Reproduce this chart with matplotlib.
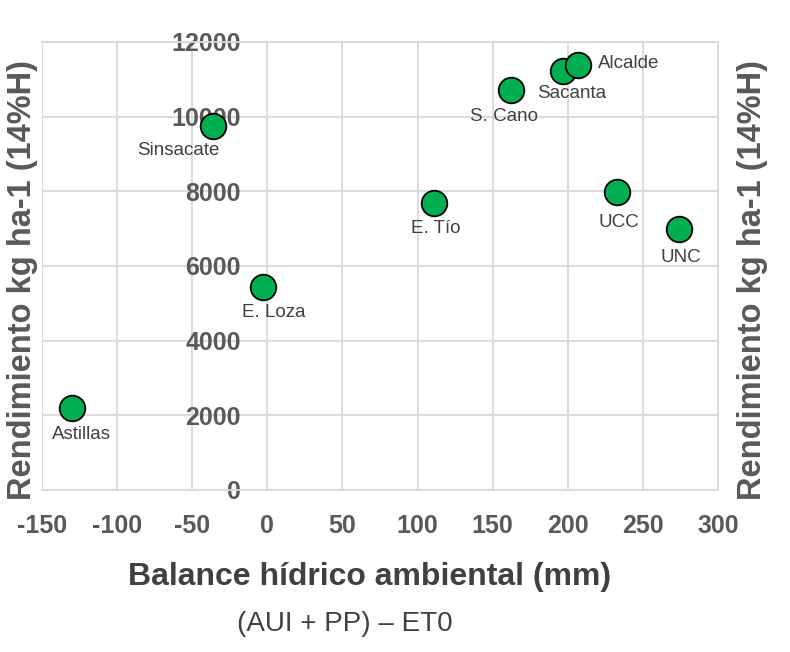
import matplotlib
matplotlib.use("Agg")
import matplotlib.pyplot as plt

plt.rcParams['font.family'] = ['Liberation Sans', 'DejaVu Sans']
plt.rcParams['axes.unicode_minus'] = False

names = ["Astillas", "E. Loza", "Sinsacate", "E. Tío", "S. Cano", "Sacanta", "Alcalde", "UCC", "UNC"]
balance = [-130, -3, -36, 111, 162, 197, 207, 233, 274]
rendimiento = [2200, 5450, 9750, 7700, 10720, 11220, 11380, 7980, 7000]
# label offsets in points (dx, dy)
label_off = [(7, -19), (8, -19), (-25, -18), (1, -19), (-5, -19), (6, -16), (36, 1), (1, -22), (1, -21)]

xticks = [-150, -100, -50, 0, 50, 100, 150, 200, 250, 300]
yticks = [0, 2000, 4000, 6000, 8000, 10000, 12000]

fig = plt.figure(figsize=(7.9, 6.52), dpi=100)
ax = fig.add_axes([0.0532, 0.2485, 0.8557, 0.6871])
ax.set_xlim(-150, 300)
ax.set_ylim(0, 12000)
ax.set_xticks(xticks)
ax.set_yticks(yticks)
ax.grid(True, color='#D9D9D9', linewidth=1.3)
ax.set_axisbelow(True)
for s in ['top', 'right', 'bottom']:
    ax.spines[s].set_color('#D9D9D9')
    ax.spines[s].set_linewidth(1.3)
ax.spines['left'].set_position(('data', 0))
ax.spines['left'].set_visible(False)

ax.tick_params(axis='y', length=0, pad=19, labelsize=18, labelcolor='#595959')
ax.tick_params(axis='x', length=0, pad=17, labelsize=18, labelcolor='#595959')
for lab in ax.get_xticklabels() + ax.get_yticklabels():
    lab.set_fontweight('bold')

ax.scatter(balance, rendimiento, s=340, color='#00B050', edgecolor='black',
           linewidth=1.3, zorder=3)
for n, x, y, (dx, dy) in zip(names, balance, rendimiento, label_off):
    ax.annotate(n, (x, y), xytext=(dx, dy), textcoords='offset points',
                ha='center', va='center', fontsize=13.5, color='#404040', zorder=4)

fig.text(0.468, 0.115, "Balance hídrico ambiental (mm)", ha='center', va='center',
         fontsize=23, fontweight='bold', color='#404040')
fig.text(0.436, 0.043, "(AUI + PP) – ET0", ha='center', va='center',
         fontsize=20, color='#404040')
ylab = "Rendimiento kg ha-1 (14%H)"
fig.text(0.028, 0.571, ylab, rotation=90, ha='center', va='center',
         fontsize=23.5, fontweight='bold', color='#595959')
fig.text(0.952, 0.571, ylab, rotation=90, ha='center', va='center',
         fontsize=23.5, fontweight='bold', color='#595959')

fig.savefig("out.png", dpi=100)
